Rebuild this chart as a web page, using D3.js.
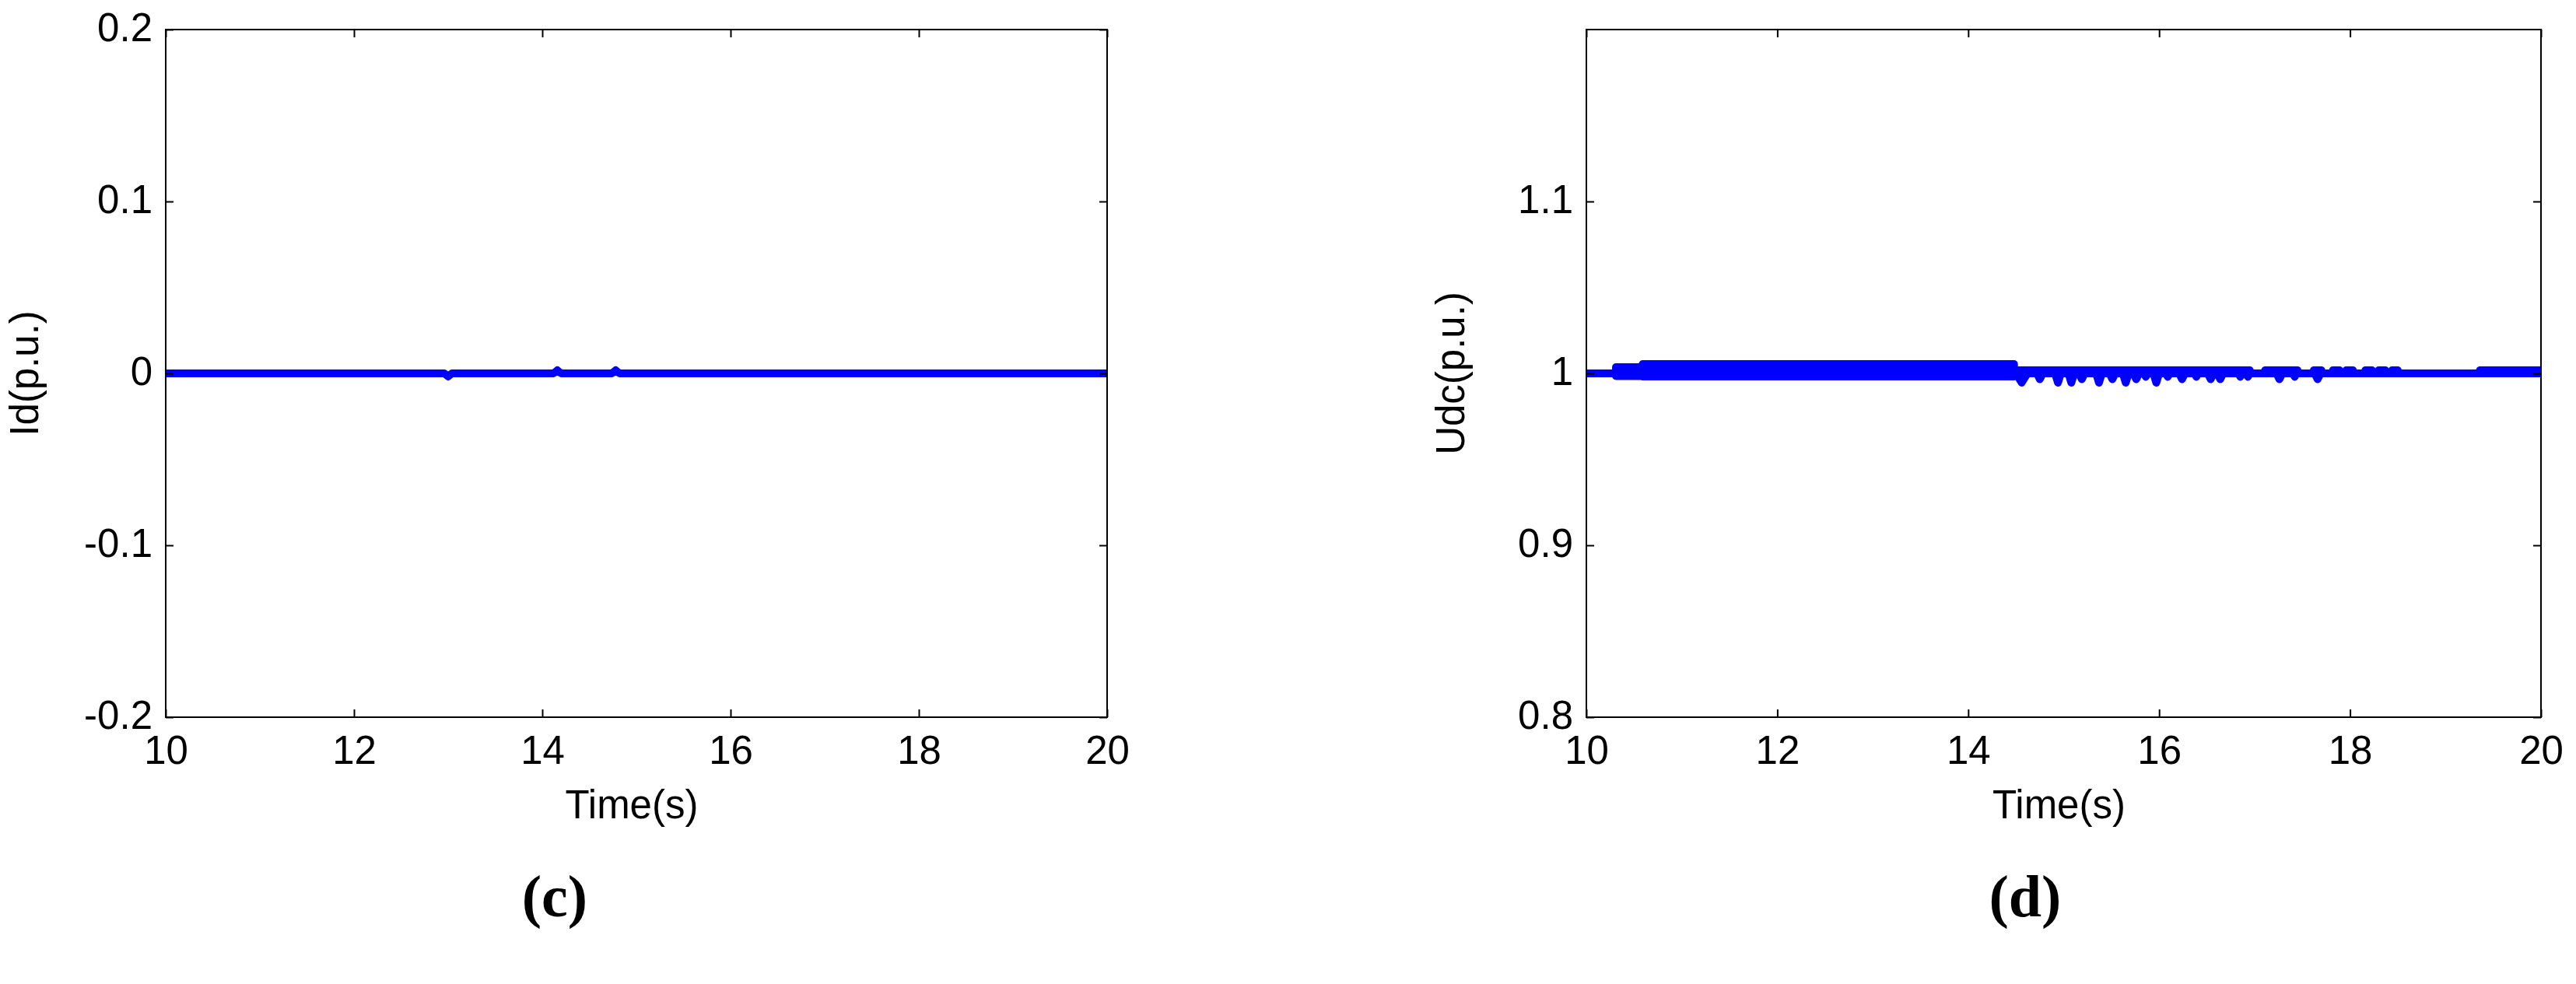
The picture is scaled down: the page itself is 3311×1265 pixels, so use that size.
<!DOCTYPE html>
<html>
<head>
<meta charset="utf-8">
<script src="https://cdn.jsdelivr.net/npm/d3@7"></script>
<style>
body { margin: 0; background: #fff; }
svg { display: block; }
.tick text { font-family: "Liberation Sans", Arial, sans-serif; font-size: 51px; fill: #000; }
.axis-title { font-family: "Liberation Sans", Arial, sans-serif; font-size: 51px; fill: #000; }
.panel-tag { font-family: "Liberation Serif", "Times New Roman", serif; font-weight: bold; font-size: 76px; fill: #000; }
</style>
</head>
<body>
<svg id="chart" width="3311" height="1265"></svg>
<script>
// time axis, same for both panels
var timeDomain = [10, 20];
var timeTicks = [10, 12, 14, 16, 18, 20];

// (c) Id(p.u.)
var idDomain = [-0.2, 0.2];
var idTicks = [-0.2, -0.1, 0, 0.1, 0.2];
var idTime  = [10, 12.96, 13.0, 13.04, 14.12, 14.16, 14.2, 14.74, 14.78, 14.82, 20];
var idValue = [0, 0, -0.0018, 0, 0, 0.0018, 0, 0, 0.0018, 0, 0];

// (d) Udc(p.u.)
var udcDomain = [0.8, 1.2];
var udcTicks = [0.8, 0.9, 1, 1.1];
var udcTime = [10, 14.5, 14.56, 14.62,
    14.72, 14.75, 14.78, 14.91, 14.94, 14.97, 15.05, 15.08, 15.11,
    15.16, 15.19, 15.22, 15.34, 15.37, 15.4, 15.48, 15.51, 15.54,
    15.62, 15.65, 15.68, 15.73, 15.76, 15.79, 15.84, 15.86, 15.88,
    15.94, 15.97, 16.0, 16.07, 16.09, 16.11, 16.21, 16.24, 16.27,
    16.37, 16.39, 16.41, 16.51, 16.54, 16.57, 16.61, 16.64, 16.67,
    16.83, 16.85, 16.87, 16.91, 16.93, 16.95, 17.23, 17.26, 17.29,
    17.4, 17.42, 17.44, 17.63, 17.66, 17.69, 20];
var udcValue = [1, 1, 0.9946, 1,
    1, 0.9966, 1, 1, 0.9946, 1, 1, 0.9946, 1,
    1, 0.9966, 1, 1, 0.9946, 1, 1, 0.9966, 1,
    1, 0.9946, 1, 1, 0.9966, 1, 1, 0.998, 1,
    1, 0.9946, 1, 1, 0.998, 1, 1, 0.9966, 1,
    1, 0.998, 1, 1, 0.9966, 1, 1, 0.9966, 1,
    1, 0.998, 1, 1, 0.998, 1, 1, 0.9966, 1,
    1, 0.998, 1, 1, 0.9966, 1, 1];
// fast oscillation, drawn as its envelope
var bandStart = [10.31, 10.59, 14.48, 17.11, 17.62, 17.82, 17.96, 18.16, 18.3, 18.44, 19.36];
var bandEnd   = [10.59, 14.48, 16.95, 17.45, 17.7, 17.89, 18.03, 18.23, 18.37, 18.5, 20];
var bandLow   = [0.9984, 0.9982, 1, 1, 1, 1, 1, 1, 1, 1, 1];
var bandHigh  = [1.0036, 1.0054, 1.0018, 1.0018, 1.0018, 1.0018, 1.0018, 1.0018, 1.0018, 1.0018, 1.0018];

var BLUE = "#0000ff";
var LINE_W = 10;

var svg = d3.select("#chart");

function drawPanel(opt) {
    var x = d3.scaleLinear().domain(timeDomain).range([opt.left, opt.right]);
    var y = d3.scaleLinear().domain(opt.yDomain).range([opt.bottom, opt.top]);

    var g = svg.append("g").attr("class", "panel");

    g.append("clipPath")
        .attr("id", opt.id + "-clip")
        .append("rect")
        .attr("x", opt.left)
        .attr("y", opt.top)
        .attr("width", opt.right - opt.left)
        .attr("height", opt.bottom - opt.top);

    var plot = g.append("g").attr("clip-path", "url(#" + opt.id + "-clip)");

    // envelope bands
    if (opt.bands) {
        plot.selectAll("rect.band")
            .data(d3.range(opt.bands.start.length))
            .enter().append("rect")
            .attr("class", "band")
            .attr("x", function(i) { return x(opt.bands.start[i]); })
            .attr("width", function(i) { return x(opt.bands.end[i]) - x(opt.bands.start[i]); })
            .attr("y", function(i) { return y(opt.bands.high[i]); })
            .attr("height", function(i) { return y(opt.bands.low[i]) - y(opt.bands.high[i]); })
            .attr("fill", BLUE)
            .attr("stroke", BLUE)
            .attr("stroke-width", LINE_W)
            .attr("stroke-linejoin", "round");
    }

    var line = d3.line()
        .x(function(i) { return x(opt.time[i]); })
        .y(function(i) { return y(opt.value[i]); });

    plot.append("path")
        .datum(d3.range(opt.time.length))
        .attr("d", line)
        .attr("fill", "none")
        .attr("stroke", BLUE)
        .attr("stroke-width", LINE_W)
        .attr("stroke-linejoin", "round")
        .attr("stroke-linecap", "round");

    // axes, ticks pointing inward on all four sides
    var xAxis = g.append("g")
        .attr("transform", "translate(0," + opt.bottom + ")")
        .call(d3.axisBottom(x).tickValues(timeTicks).tickSizeInner(-10).tickSizeOuter(0).tickPadding(24));
    xAxis.selectAll("text").attr("dy", "0.71em");

    g.append("g")
        .attr("transform", "translate(0," + opt.top + ")")
        .call(d3.axisTop(x).tickValues(timeTicks).tickSizeInner(-10).tickSizeOuter(0).tickFormat(""));

    var yAxis = g.append("g")
        .attr("transform", "translate(" + opt.left + ",0)")
        .call(d3.axisLeft(y).tickValues(opt.yTicks).tickSizeInner(-10).tickSizeOuter(0).tickPadding(17)
            .tickFormat(function(d) { return String(+d.toFixed(2)); }));
    yAxis.selectAll("text").attr("dy", "0.29em");

    g.append("g")
        .attr("transform", "translate(" + opt.right + ",0)")
        .call(d3.axisRight(y).tickValues(opt.yTicks).tickSizeInner(-10).tickSizeOuter(0).tickFormat(""));

    g.selectAll(".domain").remove();
    g.selectAll(".tick line").attr("stroke", "#000").attr("stroke-width", 2);
    g.selectAll("g").attr("font-size", null).attr("font-family", null);

    g.append("rect")
        .attr("x", opt.left)
        .attr("y", opt.top)
        .attr("width", opt.right - opt.left)
        .attr("height", opt.bottom - opt.top)
        .attr("fill", "none")
        .attr("stroke", "#000")
        .attr("stroke-width", 2);

    g.append("text")
        .attr("class", "axis-title")
        .attr("x", (opt.left + opt.right) / 2 - 6)
        .attr("y", 1052)
        .attr("text-anchor", "middle")
        .text("Time(s)");

    g.append("text")
        .attr("class", "axis-title")
        .attr("transform", "translate(" + opt.yTitleX + "," + ((opt.top + opt.bottom) / 2) + ") rotate(-90)")
        .attr("text-anchor", "middle")
        .text(opt.yTitle);

    g.append("text")
        .attr("class", "panel-tag")
        .attr("x", opt.tagX)
        .attr("y", 1178)
        .attr("text-anchor", "middle")
        .text(opt.tag);
}

drawPanel({
    id: "c", left: 213, right: 1423, top: 38, bottom: 922,
    yDomain: idDomain, yTicks: idTicks,
    time: idTime, value: idValue,
    yTitle: "Id(p.u.)", yTitleX: 49,
    tag: "(c)", tagX: 713
});

drawPanel({
    id: "d", left: 2039, right: 3266, top: 38, bottom: 922,
    yDomain: udcDomain, yTicks: udcTicks,
    time: udcTime, value: udcValue,
    bands: { start: bandStart, end: bandEnd, low: bandLow, high: bandHigh },
    yTitle: "Udc(p.u.)", yTitleX: 1882,
    tag: "(d)", tagX: 2603
});
</script>
</body>
</html>
